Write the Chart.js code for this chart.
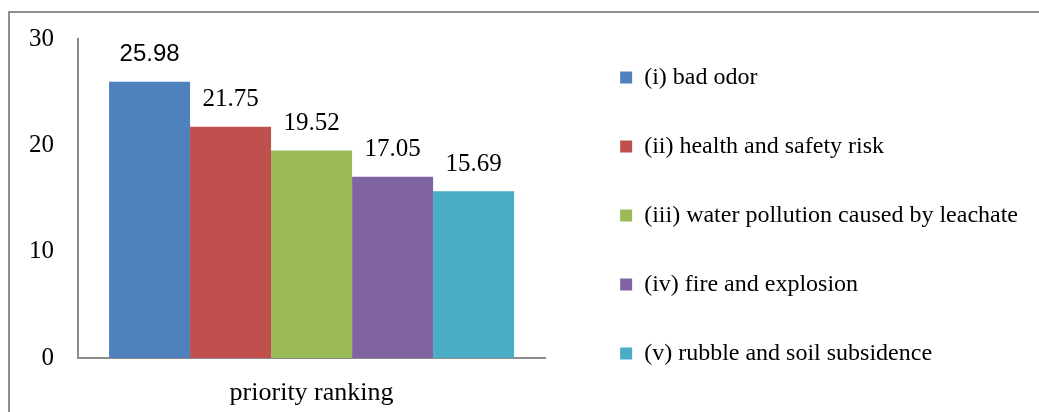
<!DOCTYPE html>
<html>
<head>
<meta charset="utf-8">
<script src="https://cdn.jsdelivr.net/npm/chart.js@4.4.1/dist/chart.umd.min.js"></script>
<style>
  html, body { margin: 0; padding: 0; background: #fff; overflow: hidden; }
  #wrap { position: relative; width: 1039px; height: 412px; }
  #frame { position: absolute; left: 8px; top: 11px; width: 1100px; height: 500px;
           border-top: 2px solid #8e8e8e; border-left: 2px solid #8e8e8e; pointer-events: none; }
</style>
</head>
<body>
<div id="wrap">
  <canvas id="chart" width="1039" height="412"></canvas>
  <div id="frame"></div>
</div>
<script>
// data
const categories = ['priority ranking'];
const seriesNames = [
    '(i) bad odor',
    '(ii) health and safety risk',
    '(iii) water pollution caused by leachate',
    '(iv) fire and explosion',
    '(v) rubble and soil subsidence'
];
const seriesValues = [25.98, 21.75, 19.52, 17.05, 15.69];
const seriesColors = ['#4F81BD', '#C0504D', '#9BBB59', '#8064A2', '#4BACC6'];
const yTicks = [0, 10, 20, 30];

const serif = '"Liberation Serif", "Times New Roman", serif';

// value labels above bars (first one is a sans font in the original)
const barLabels = {
    id: 'barLabels',
    afterDatasetsDraw(chart) {
        const ctx = chart.ctx;
        ctx.save();
        ctx.fillStyle = '#000';
        ctx.textAlign = 'center';
        ctx.textBaseline = 'middle';
        chart.data.datasets.forEach((ds, i) => {
            const meta = chart.getDatasetMeta(i);
            meta.data.forEach((bar, j) => {
                ctx.font = i === 0 ? '24px "Liberation Sans", Arial, sans-serif' : '25px ' + serif;
                ctx.fillText(ds.data[j].toFixed(2), bar.x, bar.y - 27);
            });
        });
        ctx.restore();
    }
};

const datasets = seriesNames.map((name, i) => ({
    label: name,
    data: [seriesValues[i]],
    backgroundColor: seriesColors[i],
    borderWidth: 0,
    categoryPercentage: 0.867,
    barPercentage: 1.0
}));

new Chart(document.getElementById('chart').getContext('2d'), {
    type: 'bar',
    data: { labels: categories, datasets: datasets },
    options: {
        responsive: false,
        animation: false,
        layout: { padding: { left: 0, top: 19, right: 11, bottom: 0 } },
        plugins: {
            tooltip: { enabled: false },
            legend: {
                position: 'right',
                align: 'center',
                maxWidth: 600,
                labels: {
                    color: '#000',
                    font: { family: serif, size: 24 },
                    boxWidth: 12,
                    boxHeight: 12,
                    padding: 45
                }
            }
        },
        scales: {
            x: {
                grid: { display: false, drawTicks: false },
                border: { display: true, color: '#8c8c8c', width: 2 },
                ticks: { color: '#000', font: { family: serif, size: 26 }, padding: 20 },
                afterFit(scale) { scale.height = 54; }
            },
            y: {
                min: 0,
                max: 30,
                afterBuildTicks(scale) { scale.ticks = yTicks.map(v => ({ value: v })); },
                grid: { display: false, drawTicks: false },
                border: { display: true, color: '#8c8c8c', width: 2 },
                ticks: { color: '#000', font: { family: serif, size: 25 }, padding: 24 },
                afterFit(scale) { scale.width = 78; }
            },
            // empty axes, they only keep the white space round the plot
            topGap: {
                type: 'linear',
                position: 'top',
                display: true,
                grid: { display: false, drawTicks: false },
                border: { display: false },
                ticks: { display: false },
                afterFit(scale) { scale.height = 18; }
            },
            gap: {
                type: 'linear',
                position: 'right',
                display: true,
                grid: { display: false, drawTicks: false },
                border: { display: false },
                ticks: { display: false },
                afterFit(scale) { scale.width = 30; }
            }
        }
    },
    plugins: [barLabels]
});
</script>
</body>
</html>
